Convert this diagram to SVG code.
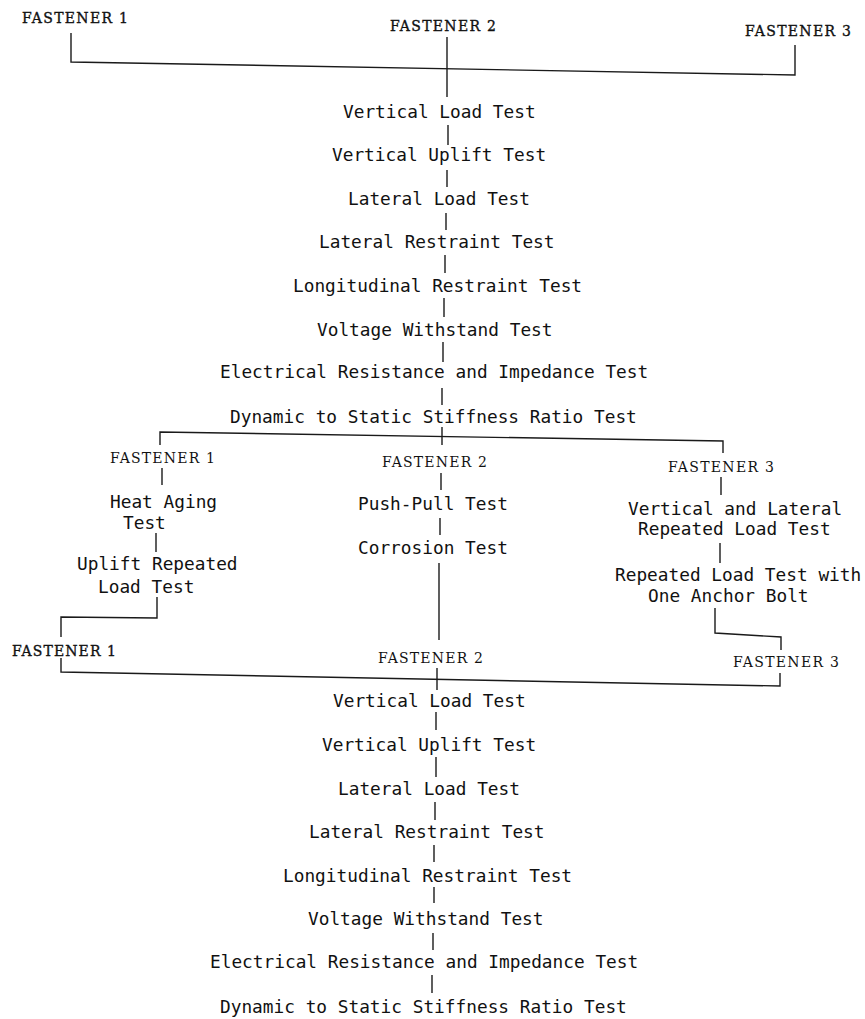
<svg xmlns="http://www.w3.org/2000/svg" width="865" height="1019" viewBox="0 0 865 1019">
<style>
.t{font-family:"DejaVu Sans Mono","Liberation Mono",monospace;font-size:17.8px;fill:#111}
.f{font-family:"DejaVu Serif","Liberation Serif",serif;font-size:14px;fill:#111}
.fb{stroke:#111;stroke-width:0.35}
.c{fill:none;stroke:#1a1a1a;stroke-width:1.4}
</style>
<rect width="865" height="1019" fill="#fff"/>
<g id="connectors" class="c">
<path d="M71,33 V62 L795,75 V45"/>
<path d="M447,37 V97"/>
<path d="M448,125 V145"/>
<path d="M447,170 V187"/>
<path d="M446,213 V230"/>
<path d="M445,255 V273"/>
<path d="M444,298 V317"/>
<path d="M443,342 V362"/>
<path d="M442,388 V405"/>
<path d="M160,445 V432 L723,441 V453"/>
<path d="M442,427 V445"/>
<path d="M162,468 V485"/>
<path d="M156,533 V552"/>
<path d="M157,597 V618 L61,617 V637"/>
<path d="M441,473 V490"/>
<path d="M440,518 V535"/>
<path d="M439,563 V640"/>
<path d="M721,477 V495"/>
<path d="M720,543 V563"/>
<path d="M715,608 V633 L781,637 V650"/>
<path d="M61,658 V672 L780,686 V673"/>
<path d="M437,668 V690"/>
<path d="M436,712 V730"/>
<path d="M436,757 V777"/>
<path d="M435,802 V820"/>
<path d="M434,845 V862"/>
<path d="M434,887 V903"/>
<path d="M433,933 V950"/>
<path d="M432,975 V993"/>
</g>
<g id="top-f1"><text class="f fb" x="22" y="23" textLength="106" lengthAdjust="spacing">FASTENER 1</text></g>
<g id="top-f2"><text class="f fb" x="390" y="31" textLength="106" lengthAdjust="spacing">FASTENER 2</text></g>
<g id="top-f3"><text class="f fb" x="745" y="36" textLength="106" lengthAdjust="spacing">FASTENER 3</text></g>
<g id="top-vlt"><text class="t" x="343" y="118">Vertical Load Test</text></g>
<g id="top-vut"><text class="t" x="332" y="161">Vertical Uplift Test</text></g>
<g id="top-llt"><text class="t" x="348" y="205">Lateral Load Test</text></g>
<g id="top-lrt"><text class="t" x="319" y="248">Lateral Restraint Test</text></g>
<g id="top-lort"><text class="t" x="293" y="292">Longitudinal Restraint Test</text></g>
<g id="top-vwt"><text class="t" x="317" y="336">Voltage Withstand Test</text></g>
<g id="top-erit"><text class="t" x="220" y="378">Electrical Resistance and Impedance Test</text></g>
<g id="top-dssrt"><text class="t" x="230" y="423">Dynamic to Static Stiffness Ratio Test</text></g>
<g id="mid-f1"><text class="f" x="110" y="463" textLength="105" lengthAdjust="spacing">FASTENER 1</text></g>
<g id="mid-heat"><text class="t" x="110" y="508">Heat Aging</text><text class="t" x="123" y="529">Test</text></g>
<g id="mid-uplift"><text class="t" x="77" y="570">Uplift Repeated</text><text class="t" x="98" y="593">Load Test</text></g>
<g id="mid-f2"><text class="f" x="382" y="467" textLength="105" lengthAdjust="spacing">FASTENER 2</text></g>
<g id="mid-push"><text class="t" x="358" y="510">Push-Pull Test</text></g>
<g id="mid-corr"><text class="t" x="358" y="554">Corrosion Test</text></g>
<g id="mid-f3"><text class="f" x="668" y="472" textLength="106" lengthAdjust="spacing">FASTENER 3</text></g>
<g id="mid-vl"><text class="t" x="628" y="515">Vertical and Lateral</text><text class="t" x="638" y="535">Repeated Load Test</text></g>
<g id="mid-rl"><text class="t" x="615" y="581">Repeated Load Test with</text><text class="t" x="648" y="602">One Anchor Bolt</text></g>
<g id="bot-f1"><text class="f fb" x="12" y="656" textLength="104" lengthAdjust="spacing">FASTENER 1</text></g>
<g id="bot-f2"><text class="f" x="378" y="663" textLength="105" lengthAdjust="spacing">FASTENER 2</text></g>
<g id="bot-f3"><text class="f" x="733" y="667" textLength="106" lengthAdjust="spacing">FASTENER 3</text></g>
<g id="bot-vlt"><text class="t" x="333" y="707">Vertical Load Test</text></g>
<g id="bot-vut"><text class="t" x="322" y="751">Vertical Uplift Test</text></g>
<g id="bot-llt"><text class="t" x="338" y="795">Lateral Load Test</text></g>
<g id="bot-lrt"><text class="t" x="309" y="838">Lateral Restraint Test</text></g>
<g id="bot-lort"><text class="t" x="283" y="882">Longitudinal Restraint Test</text></g>
<g id="bot-vwt"><text class="t" x="308" y="925">Voltage Withstand Test</text></g>
<g id="bot-erit"><text class="t" x="210" y="968">Electrical Resistance and Impedance Test</text></g>
<g id="bot-dssrt"><text class="t" x="220" y="1013">Dynamic to Static Stiffness Ratio Test</text></g>
</svg>
